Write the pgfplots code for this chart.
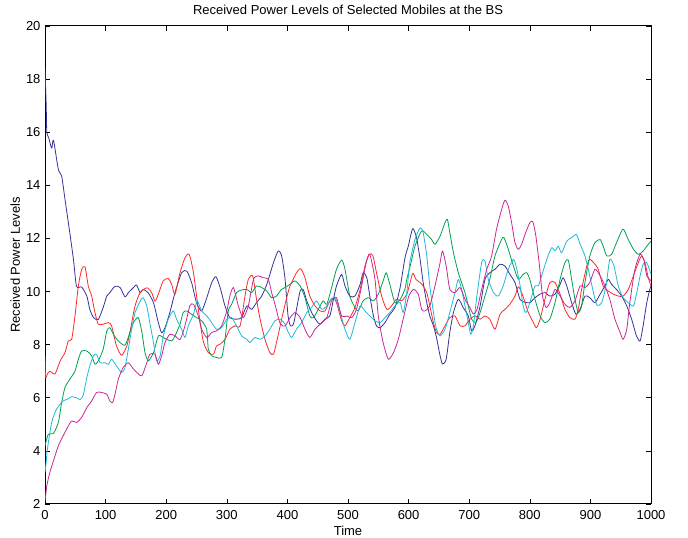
\documentclass[border=0pt]{standalone}
\usepackage{fontspec}
\setmainfont{Liberation Sans}
\usepackage{pgfplots}
\pgfplotsset{compat=1.18}
\definecolor{cblue}{RGB}{51,51,153}
\definecolor{cred}{RGB}{255,40,40}
\definecolor{cgreen}{RGB}{0,160,80}
\definecolor{ccyan}{RGB}{30,185,215}
\definecolor{cmag}{RGB}{200,40,150}
\begin{document}
\begin{tikzpicture}
\useasboundingbox (-45pt,-34pt) rectangle (643pt,504pt);
\begin{axis}[
  at={(0pt,0pt)}, anchor=south west,
  scale only axis, width=606pt, height=478pt,
  xmin=0, xmax=1000, ymin=2, ymax=20,
  xtick={0,100,...,1000}, ytick={2,4,...,20},
  tick align=inside, major tick length=5pt,
  xtick pos=both, ytick pos=both,
  axis line style={line width=1pt},
  every tick/.style={black, line width=0.6pt},
  tick label style={font=\fontsize{13}{15}\selectfont},
  xticklabel style={yshift=-3pt},
  yticklabel style={xshift=-1pt},
  /pgf/number format/assume math mode=true,
  /pgf/number format/1000 sep={},
  xlabel={Time}, ylabel={Received Power Levels},
  label style={font=\fontsize{13}{15}\selectfont},
  xlabel style={at={(axis description cs:0.5,-0.056)}, anchor=center},
  ylabel style={at={(axis description cs:-0.049,0.5)}, anchor=center},
  every axis plot/.append style={line width=0.8pt, no marks, line join=round},
]
\addplot[cblue, smooth, tension=0.4] coordinates {
(0,18.4)(2,17.0)(3,16.0)(6,15.8)(11,15.4)(14,15.7)(22,14.6)(27.5,14.35)(33,13.47)(41,12.2)(47,11.2)(52,10.2)(60.5,10.17)(69,9.83)(74,9.33)(80,9.02)(88,8.95)(96,9.4)(102,9.83)(107,9.96)(115.5,10.2)(124,10.15)(132,9.8)(137.5,9.96)(146,10.15)(151,10.25)(157,9.96)(162,10.08)(170,9.96)(179,9.58)(187,8.83)(192.5,8.45)(198,8.64)(206,9.21)(214.5,9.96)(225.5,10.71)(234,10.77)(242,10.33)(250,9.58)(258.5,9.27)(267,9.77)(275,10.33)(282,10.56)(289,10.15)(297,9.46)(305,9.02)(316,8.96)(324.5,9.02)(333,9.46)(341,9.33)(349,9.58)(357.5,9.83)(366,10.27)(377,11.09)(385,11.53)(390.5,11.34)(396,10.5)(401,9.1)(405,8.71)(410,8.77)(415,9.33)(421,10.02)(426,10.08)(432,9.65)(440,9.21)(448,8.9)(454,8.77)(462,8.96)(470,9.08)(476,9.71)(481,10.21)(489.5,10.65)(495,10.21)(503,9.83)(511.5,9.83)(520,10.27)(525,10.71)(531,10.52)(536,9.83)(542,9.08)(547,8.71)(553,8.64)(561,8.83)(569,9.14)(577.5,9.4)(586,10.15)(594,11.27)(599.5,11.71)(606.7,12.37)(613,12.03)(619,11.21)(624,10.34)(630,9.58)(635,9.08)(641,8.71)(646,8.27)(652,7.58)(656,7.27)(662,7.45)(668,8.46)(674,9.21)(682,9.71)(690,9.4)(698.5,9.08)(704,8.52)(709.5,8.71)(718,9.46)(726,10.46)(734,10.71)(742.5,10.84)(751,11.03)(759,10.96)(767,10.65)(775.5,10.34)(784,9.7)(792,9.6)(800,9.58)(808.5,9.77)(817,9.9)(825,9.96)(833,9.83)(841.6,9.9)(850,10.27)(855,10.52)(861,10.21)(869,9.58)(876,9.15)(883,9.33)(891,9.83)(899,9.77)(907.5,9.58)(916,9.9)(924,10.21)(929.5,10.46)(935,10.27)(943,10.08)(951.5,9.83)(960,9.46)(968,8.96)(976,8.33)(982,8.14)(987,8.71)(993,9.58)(998,10.08)(1000,10.2)
};
\addplot[cred, smooth, tension=0.4] coordinates {
(0,7.58)(1,6.76)(4,6.9)(8,7.0)(16.5,6.9)(25,7.39)(33,7.7)(38.5,8.14)(44,8.2)(49.5,9.08)(55,10.2)(60.5,10.83)(66,10.93)(71.5,10.2)(77,9.83)(82.5,9.2)(88,8.77)(96,8.77)(104.5,8.83)(110,8.7)(118,7.95)(126.5,7.6)(135,7.95)(140,8.45)(148.5,9.45)(157,9.96)(168,10.14)(176,9.96)(181.5,9.64)(187,9.9)(195,10.4)(203.5,10.49)(209,10.27)(214.5,9.9)(222.8,10.71)(231,11.27)(238,11.4)(245,10.71)(253,9.33)(261,8.14)(269.5,7.7)(278,7.64)(283,7.95)(289,8.02)(297,8.2)(305,8.58)(313.5,8.71)(322,8.71)(330,9.83)(335.5,10.46)(342.7,10.59)(349,9.71)(355,8.96)(363,8.2)(371,7.7)(377,7.64)(382,8.08)(390.5,8.96)(398.8,9.77)(404,10.2)(407,10.34)(415,10.71)(422,10.86)(429,10.52)(437,9.83)(445.5,9.46)(454,9.27)(462,9.27)(470,9.65)(476,9.77)(481,9.58)(489.5,8.9)(495,8.71)(503,9.02)(511.5,9.4)(520,10.08)(528,10.96)(535,11.4)(541,11.36)(547,10.71)(555.5,9.83)(564,9.33)(572,9.46)(580,9.71)(588.5,9.65)(597,9.9)(602,10.3)(607,10.69)(612,10.46)(619,10.34)(624,10.21)(630,9.96)(635,9.46)(641,8.83)(646,8.46)(652,8.39)(660,8.71)(668,9.02)(676.5,9.08)(685,8.71)(693,8.71)(701,8.96)(709.5,9.08)(718,8.96)(726,9.08)(734,8.96)(742.5,8.58)(751,9.15)(759,9.33)(767,9.52)(775.5,9.83)(781,10.18)(786.5,9.96)(792,9.6)(797.5,9.21)(806,8.83)(811,8.64)(817,8.96)(825,9.71)(833,10.34)(841.6,10.34)(850,9.9)(858,9.33)(866,9.02)(874.5,8.96)(880,9.33)(885.5,10.08)(894,10.96)(899,11.21)(907.5,11.03)(913,10.84)(921,10.21)(929.5,10.02)(938,9.9)(946,9.83)(954,9.83)(962.5,10.08)(971,10.59)(979,11.09)(984.5,11.34)(990,11.09)(995.5,10.52)(1000,10.21)
};
\addplot[cgreen, smooth, tension=0.4] coordinates {
(0,4.19)(5.5,4.63)(13.7,4.65)(22,5.07)(27.5,5.82)(33,6.39)(41,6.7)(49.5,7.0)(55,7.45)(60.5,7.76)(69,7.76)(77,7.58)(82.5,7.26)(88,7.39)(96,7.83)(102,8.52)(107,8.64)(113,8.39)(121,8.14)(132,7.98)(140,8.45)(146,8.83)(154,9.02)(160,8.45)(165,7.7)(170.5,7.39)(179,7.7)(187,8.33)(195,8.27)(201,8.2)(209,8.14)(214.5,8.33)(222.8,8.77)(228,9.21)(234,9.27)(242,9.14)(250,9.02)(258.5,8.9)(266.8,8.58)(269.5,7.83)(275,7.58)(283,7.52)(291.5,7.52)(297,8.2)(302.5,9.27)(308,9.52)(316,9.96)(324.5,10.06)(333,10.08)(341,9.96)(349,10.21)(357.5,10.15)(366,10.02)(374,9.77)(382,9.83)(390,10.08)(396,10.15)(404,10.27)(412.5,10.4)(421,10.21)(429,9.77)(437,9.08)(443,9.02)(451,9.33)(459,9.65)(465,9.52)(473,10.15)(481,10.84)(489.5,11.19)(495,10.84)(503,9.83)(511.5,9.4)(517,9.27)(525,9.65)(533.5,9.77)(542,9.65)(550,9.9)(558,10.4)(563,10.71)(569,10.27)(577.5,9.58)(586,9.7)(594,10.1)(597,10.46)(602,10.9)(610.5,11.71)(621.5,12.28)(630,12.15)(638,11.96)(643.5,11.78)(652,12.09)(660,12.59)(664,12.72)(668,12.22)(674,11.46)(682,10.71)(687.5,10.34)(693,9.96)(698.5,9.46)(704,8.96)(711,8.83)(718,9.21)(726,9.83)(734,10.46)(742.5,11.34)(753.5,11.96)(757.4,12.03)(764.5,11.59)(773,10.96)(781,10.46)(789,10.65)(795,10.71)(800,10.46)(808.5,9.71)(817,9.08)(825,8.83)(833,8.96)(841.6,9.58)(850,10.46)(858,11.09)(863.5,11.19)(869,10.46)(874.5,9.71)(880,9.21)(885.5,9.46)(891,10.34)(899,11.34)(907.5,11.84)(916,11.96)(921,11.71)(927,11.34)(935,11.4)(943,11.84)(951.5,12.28)(955,12.34)(962.5,11.96)(971,11.59)(979,11.4)(987,11.52)(993,11.71)(1000,11.9)
};
\addplot[ccyan, smooth, tension=0.4] coordinates {
(0,3.19)(2,3.6)(4,4.07)(11,5.07)(19,5.57)(30,5.88)(38.5,5.96)(44,6.04)(52,6.0)(58,5.93)(63,6.09)(69,6.76)(74,7.2)(80,7.58)(85,7.64)(91,7.32)(99,7.32)(104.5,7.26)(110,7.45)(118,7.2)(126.5,6.95)(132,7.14)(137.5,7.83)(143,8.58)(148.5,9.2)(157,9.64)(162,9.77)(168,9.45)(173,8.83)(179,8.08)(184,7.39)(190,7.58)(195.3,8.33)(203.5,8.96)(211.8,9.27)(217,8.96)(225.5,8.58)(231,8.27)(236.5,8.71)(245,9.14)(251,9.65)(258.5,9.27)(267,9.08)(275,8.83)(283,8.58)(291.5,8.64)(300,8.96)(308,9.02)(316,8.71)(324.5,8.33)(333,8.2)(338,8.08)(346.5,8.27)(355,8.2)(363,8.33)(371,8.58)(379.5,8.9)(388,8.96)(396,8.77)(401.5,8.46)(407,8.27)(415,8.58)(423.5,8.83)(432,9.21)(440,9.4)(448,9.65)(456.5,9.33)(465,9.46)(473,9.71)(480,9.73)(487,9.21)(495,8.58)(503,8.2)(511.5,8.83)(520,9.46)(528,9.27)(536,9.08)(544.5,8.9)(553,8.83)(561,9.02)(569,9.21)(577.5,9.46)(586,9.6)(591,9.21)(597,9.96)(602,11.09)(610.5,11.96)(619,12.4)(624,12.22)(630,11.34)(635,10.21)(641,9.21)(646,8.58)(652,8.33)(660,8.58)(668,9.21)(676.5,9.96)(682,10.46)(687.5,10.08)(693,9.46)(698.5,8.83)(702.4,8.39)(707,8.71)(712,9.71)(720.5,11.09)(726,11.15)(731.5,10.46)(740,9.96)(748,9.83)(756,10.21)(764.5,10.84)(773,11.21)(778,10.9)(784,10.21)(789,9.46)(793.7,9.21)(800,9.58)(808.5,10.21)(814,10.21)(819.5,10.59)(828,11.21)(836,11.65)(841.6,11.53)(847,11.71)(852.5,11.46)(861,11.9)(869,12.03)(877,12.15)(883,11.78)(891,11.34)(899,10.59)(905,9.96)(911,9.48)(918.5,9.58)(925.7,10.21)(932,11.21)(939,10.96)(946,10.21)(954,9.77)(962.5,9.58)(971,9.46)(976,9.9)(982,10.59)(987,11.03)(993,11.09)(1000,10.65)
};
\addplot[cmag, smooth, tension=0.4] coordinates {
(0,2.1)(1,2.31)(3,2.69)(8,3.19)(14,3.63)(22,4.19)(30,4.57)(38.5,4.94)(44,5.13)(52,5.07)(60.5,5.26)(69,5.63)(77,5.88)(85,6.2)(93.5,6.2)(102,6.13)(107,5.88)(111.5,5.82)(115.5,6.13)(121,6.7)(129,7.14)(137.5,7.32)(146,7.08)(154,6.9)(160,6.83)(168,7.32)(173,7.64)(181.5,7.64)(187,7.26)(192.5,7.58)(198,8.08)(206,8.39)(214.5,8.33)(223,8.2)(231,8.71)(239,9.46)(245,9.52)(253,9.08)(258.5,8.58)(267,8.27)(275,8.46)(283,8.52)(291.5,8.71)(300,9.27)(305,9.83)(311,10.15)(319,9.46)(327,9.02)(335.5,9.46)(344,10.46)(352,10.59)(360,10.52)(368.5,10.46)(374,9.96)(379.5,9.52)(388,8.8)(396,8.7)(404,9.0)(412.5,9.21)(421,9.02)(429,8.58)(437,8.27)(445.5,8.58)(454,8.77)(465,9.02)(473,9.65)(481,9.77)(489.5,9.08)(498,9.08)(506,9.02)(514,9.33)(522.5,10.21)(530,11.09)(536,11.4)(544.5,10.46)(550,9.08)(558,8.08)(566.5,7.45)(575,7.7)(583,8.2)(591,8.96)(600,9.8)(608,10.08)(616,9.9)(621.5,9.33)(627,9.27)(635,9.46)(643.5,10.21)(652,11.09)(656,11.53)(662,10.96)(668,10.08)(676.5,9.96)(685,10.15)(693,9.71)(701,9.4)(707,9.15)(713,9.33)(720.5,10.08)(729,10.84)(737,11.34)(745,12.34)(753.5,13.09)(759,13.44)(764.5,13.22)(770,12.59)(775.5,11.84)(781,11.59)(786.5,11.78)(792,12.15)(800,12.59)(805,12.63)(810,12.09)(816,10.96)(821,9.83)(827,9.4)(833,9.58)(841.6,10.08)(850,9.83)(858,9.52)(866,9.4)(874.5,9.65)(883,10.21)(891,10.15)(899,10.34)(907.5,10.84)(916,10.59)(924,10.21)(932,9.71)(940.5,8.96)(949,8.46)(954,8.2)(960,8.58)(965,9.58)(973.5,10.84)(982,11.4)(988,11.21)(993,10.59)(998,10.46)(1000,10.4)
};
\end{axis}
\node[font=\fontsize{13}{15}\selectfont, anchor=center] at (303pt,494pt) {Received Power Levels of Selected Mobiles at the BS};
\end{tikzpicture}
\end{document}
